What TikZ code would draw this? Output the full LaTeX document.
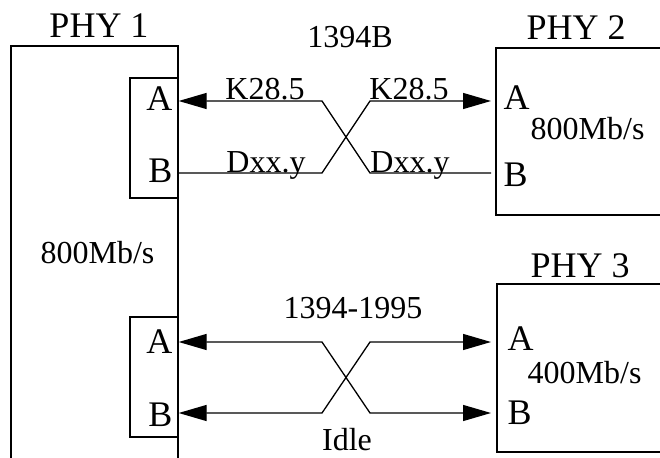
\documentclass[tikz,border=0pt]{standalone}
\usepackage{fontspec}
\setmainfont{Liberation Serif}
\usetikzlibrary{arrows.meta,positioning,calc}

\tikzset{
  phybox/.style={draw,minimum width=184pt,minimum height=167pt,inner sep=0pt},
  portbox/.style={draw,minimum width=48pt,minimum height=120pt,inner sep=0pt},
  sig/.style={-{Triangle[length=28pt,width=16pt]}},
  sigboth/.style={{Triangle[length=28pt,width=16pt]}-{Triangle[length=28pt,width=16pt]}},
  lbl/.style={font=\fontsize{32}{38}\selectfont,inner sep=0pt},
  portlbl/.style={font=\fontsize{36}{40}\selectfont,inner sep=0pt},
  phytitle/.style={font=\fontsize{36}{40}\selectfont,inner sep=0pt,anchor=base}
}

\begin{document}
\begin{tikzpicture}[x=1pt,y=-1pt,line width=1.3pt]
\useasboundingbox (0,0) rectangle (660,457);
\clip (0,0) rectangle (660,457);

% the three PHYs
\node[draw,minimum width=167pt,minimum height=440pt,inner sep=0pt] (phy1) at (94.5,266) {};
\node[phybox] (phy2) at (588,131.5) {};
\node[phybox,minimum height=168pt] (phy3) at (589,368) {};
\node[phytitle] (t1) at (99,38) {PHY 1};
\node[phytitle] (t2) at (576,40) {PHY 2};
\node[phytitle] (t3) at (580,277) {PHY 3};

% ports of PHY 1
\node[portbox] (p1u) at (154,138) {};
\node[portbox] (p1d) at (154,377) {};
\node[portlbl,anchor=east] (a1u) at (173,98.5) {A};
\node[portlbl,anchor=east] (b1u) at (173,171) {B};
\node[portlbl,anchor=east] (a1d) at (173,341.5) {A};
\node[portlbl,anchor=east] (b1d) at (173,415) {B};
\node[lbl,anchor=base west] (r1) at (40,263) {800Mb/s};

% ports of PHY 2 and PHY 3
\node[portlbl,anchor=west] (a2) at (503,97.5) {A};
\node[portlbl,anchor=west] (b2) at (503,175) {B};
\node[lbl,anchor=base west] (r2) at (530,140) {800Mb/s};
\node[portlbl,anchor=west] (a3) at (507,339) {A};
\node[portlbl,anchor=west] (b3) at (507,413) {B};
\node[lbl,anchor=base west] (r3) at (527,383) {400Mb/s};

% 1394B link
\coordinate (kl) at (322,101);
\coordinate (kr) at (370,101);
\coordinate (dl) at (322,173);
\coordinate (dr) at (370,173);
\coordinate (e2a) at (491,101);
\coordinate (e2b) at (491,173);
\draw[sig] (e2b) -- (dr) -- (kl) -- (p1u.east |- kl);
\draw[sig] (p1u.east |- dl) -- (dl) -- (kr) -- (e2a);
\node[lbl,anchor=base] (n1394b) at (350,48) {1394B};
\node[lbl,anchor=base] (kl1) at (265,100) {K28.5};
\node[lbl,anchor=base] (kl2) at (409,100) {K28.5};
\node[lbl,anchor=base] (dl1) at (266,172) {Dxx.y};
\node[lbl,anchor=base] (dl2) at (410,172) {Dxx.y};

% 1394-1995 link
\coordinate (al) at (322,342);
\coordinate (ar) at (370,342);
\coordinate (bl) at (322,413);
\coordinate (br) at (370,413);
\coordinate (e3a) at (491,342);
\coordinate (e3b) at (491,413);
\draw[sigboth] (p1d.east |- al) -- (al) -- (br) -- (e3b);
\draw[sigboth] (p1d.east |- bl) -- (bl) -- (ar) -- (e3a);
\node[lbl,anchor=base] (n1995) at (353,318) {1394-1995};
\node[lbl,anchor=base] (idle) at (347,450) {Idle};
\end{tikzpicture}
\end{document}
